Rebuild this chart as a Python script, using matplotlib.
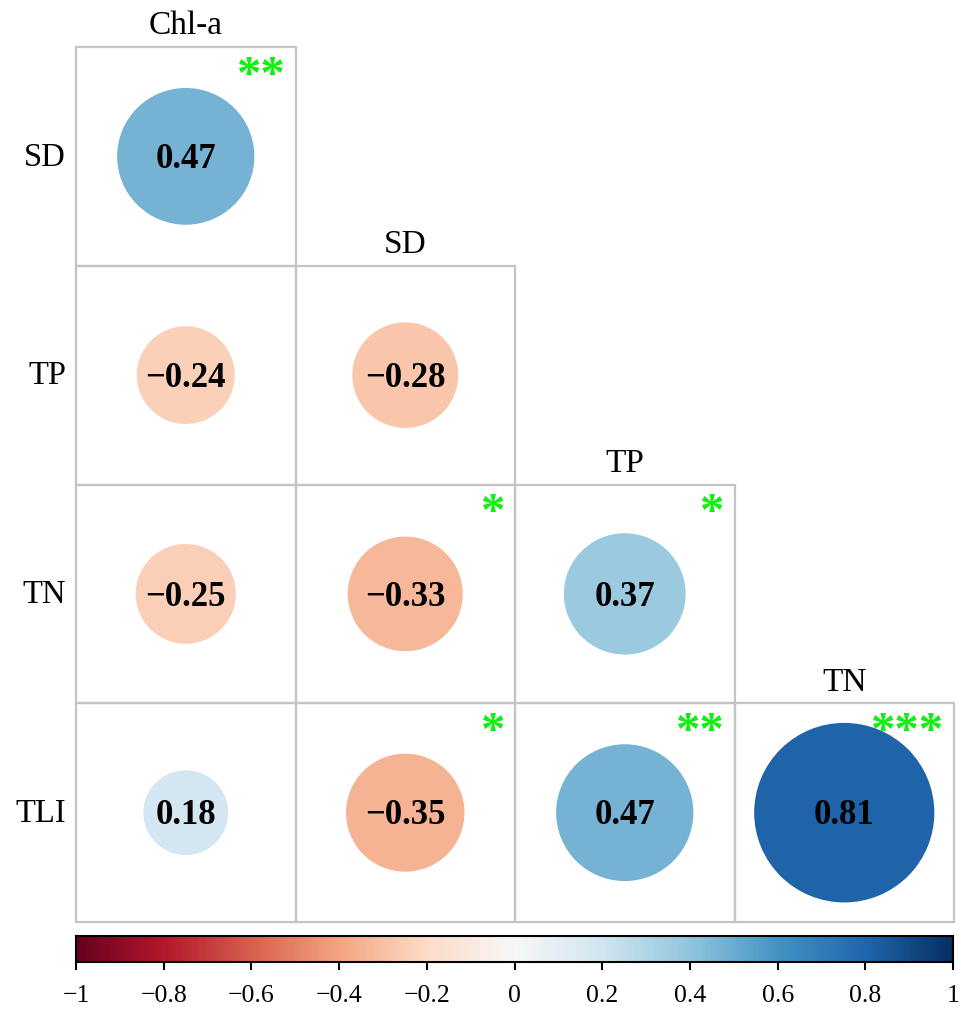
import numpy as np
import matplotlib
matplotlib.use("Agg")
import matplotlib.pyplot as plt
from matplotlib.patches import Rectangle, Circle
from matplotlib.colors import Normalize
from matplotlib.cm import ScalarMappable

plt.rcParams['font.family'] = ['Liberation Serif', 'DejaVu Serif']

row_labels = ["SD", "TP", "TN", "TLI"]
col_labels = ["Chl-a", "SD", "TP", "TN"]

# lower triangle of the correlation matrix, one list per row
corr = [
    [0.47],
    [-0.24, -0.28],
    [-0.25, -0.33, 0.37],
    [0.18, -0.35, 0.47, 0.81],
]
signif = [
    ["**"],
    ["", ""],
    ["", "*", "*"],
    ["", "*", "**", "***"],
]
cbar_ticks = [-1, -0.8, -0.6, -0.4, -0.2, 0, 0.2, 0.4, 0.6, 0.8, 1]

cmap = plt.get_cmap("RdBu")
norm = Normalize(vmin=-1, vmax=1)
n = len(row_labels)

fig = plt.figure(figsize=(9.62, 10.12), dpi=100)
ax = fig.add_axes([0.079, 0.0879, 0.9127, 0.8647])
ax.set_xlim(0, n)
ax.set_ylim(n, 0)
ax.axis("off")

for i, row in enumerate(corr):
    for j, r in enumerate(row):
        ax.add_patch(Rectangle((j, i), 1, 1, facecolor="none", edgecolor="#c4c4c4",
                               lw=1.6, clip_on=False, zorder=1))
        # circle area scales with |r|
        rad = 0.456 * np.sqrt(abs(r))
        ax.add_patch(Circle((j + 0.5, i + 0.5), rad, facecolor=cmap(norm(r)),
                            edgecolor="none", zorder=2, clip_on=False))
        txt = f"{r:.2f}".replace("-", "\u2212")
        ax.text(j + 0.5, i + 0.51, txt, ha="center", va="center", fontsize=25,
                fontweight="bold", zorder=3)
        if signif[i][j]:
            ax.text(j + 0.955, i + 0.03, signif[i][j], ha="right", va="top",
                    fontsize=35, fontweight="bold", color="#11ee11", zorder=4)
    # column name above the diagonal cell, row name on the left
    ax.text(i + 0.5, i - 0.03, col_labels[i], ha="center", va="bottom", fontsize=24)
    ax.text(-0.045, i + 0.5, row_labels[i], ha="right", va="center", fontsize=23.5)

cax = fig.add_axes([0.079, 0.0484, 0.9117, 0.0257])
cb = fig.colorbar(ScalarMappable(norm=norm, cmap=cmap), cax=cax,
                  orientation="horizontal", ticks=cbar_ticks)
cb.ax.set_xticklabels([("%g" % t).replace("-", "\u2212") for t in cbar_ticks])
cb.outline.set_linewidth(1.5)
cb.outline.set_edgecolor("black")
cb.ax.tick_params(length=6, width=1.5, labelsize=18.5, pad=10, color="black")

fig.savefig("out.png", dpi=100)
